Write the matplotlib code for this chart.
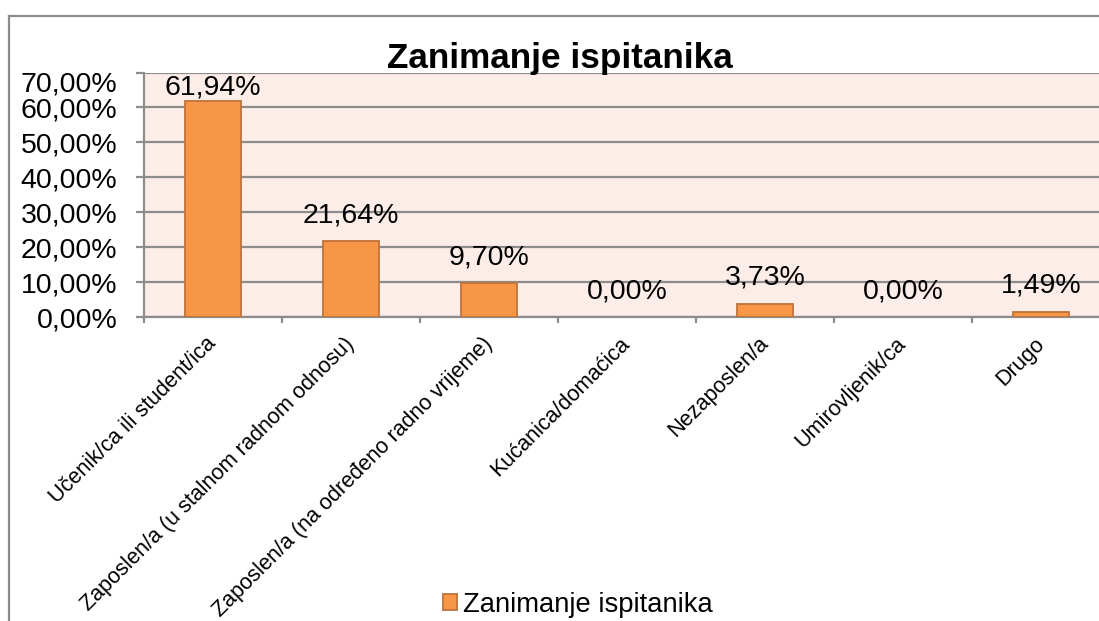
import matplotlib
matplotlib.use("Agg")
import matplotlib.pyplot as plt
from matplotlib.lines import Line2D
from matplotlib.transforms import ScaledTranslation

plt.rcParams['font.family'] = ['Liberation Sans', 'DejaVu Sans']

categories = ["Učenik/ca ili student/ica",
              "Zaposlen/a (u stalnom radnom odnosu)",
              "Zaposlen/a (na određeno radno vrijeme)",
              "Kućanica/domaćica",
              "Nezaposlen/a",
              "Umirovljenik/ca",
              "Drugo"]
values = [61.94, 21.64, 9.70, 0.00, 3.73, 0.00, 1.49]
yticks = [0, 10, 20, 30, 40, 50, 60, 70]
series_name = "Zanimanje ispitanika"
title = "Zanimanje ispitanika"

W, H = 1099, 621
fig = plt.figure(figsize=(W / 100, H / 100), dpi=100)

grid_c = '#8C8C8C'
bar_c = '#F79646'
edge_c = '#C0733A'
bg_c = '#FCEDE8'

# outer chart border (left and top visible)
fig.add_artist(Line2D([9 / W, 9 / W], [0, 1 - 16 / H], color=grid_c, lw=1.6,
                      transform=fig.transFigure))
fig.add_artist(Line2D([9 / W, 1], [1 - 16 / H, 1 - 16 / H], color=grid_c, lw=1.6,
                      transform=fig.transFigure))

left, right, top, bottom = 144, 1110, 72.5, 317
ax = fig.add_axes([left / W, 1 - bottom / H, (right - left) / W, (bottom - top) / H])
ax.set_facecolor(bg_c)

x = list(range(len(categories)))
bars = ax.bar(x, values, width=0.4, color=bar_c, edgecolor=edge_c,
              linewidth=[1.3 if v > 0 else 0 for v in values],
              label=series_name, zorder=3)

ax.set_xlim(-0.5, len(categories) - 0.5)
ax.set_ylim(0, 70)
ax.set_yticks(yticks)
ax.set_yticklabels([f"{v:.2f}%".replace('.', ',') for v in yticks], fontsize=20.5)
ax.yaxis.grid(True, color=grid_c, linewidth=1.6, zorder=0)
ax.set_axisbelow(True)
ax.tick_params(axis='y', length=5.8, width=1.6, color=grid_c, pad=13.5)

# top label is pushed slightly down (below the title) as in the original
top_lab = ax.yaxis.get_major_ticks()[-1].label1
top_lab.set_transform(top_lab.get_transform() + ScaledTranslation(0, -0.09, fig.dpi_scale_trans))

ax.set_xticks(x)
ax.set_xticklabels(categories, rotation=45, ha='right', va='center',
                   rotation_mode='anchor', fontsize=15.6)
ax.tick_params(axis='x', which='major', length=0, pad=17)
ax.set_xticks([i - 0.5 for i in range(len(categories) + 1)], minor=True)
ax.tick_params(axis='x', which='minor', length=4.5, width=1.6, color=grid_c)

for s in ['top', 'right']:
    ax.spines[s].set_visible(False)
for s in ['left', 'bottom']:
    ax.spines[s].set_color(grid_c)
    ax.spines[s].set_linewidth(1.6)

# data labels
px_per_unit = (bottom - top) / 70
for xi, v in zip(x, values):
    dist_top_px = (70 - v) * px_per_unit
    off_px = min(26, dist_top_px - 14.5)
    ax.annotate(f"{v:.2f}%".replace('.', ','), (xi, v), xytext=(0, off_px * 0.72),
                textcoords='offset points', ha='center', va='center',
                fontsize=20.5, zorder=5, annotation_clip=False)

fig.text(560 / W, 1 - 68 / H, title, ha='center', va='baseline',
         fontsize=25.3, fontweight='bold')

fig.legend(handles=[bars], labels=[series_name], loc='center',
           bbox_to_anchor=(578 / W, 1 - 605 / H), frameon=False, fontsize=19.7,
           handlelength=0.5, handleheight=0.5, handletextpad=0.25, borderpad=0,
           borderaxespad=0)

fig.savefig("out.png", dpi=100)
